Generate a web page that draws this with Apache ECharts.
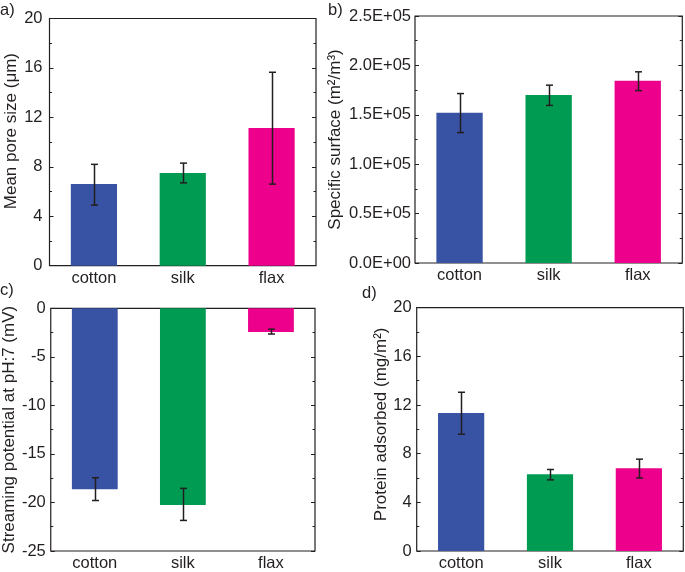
<!DOCTYPE html>
<html>
<head>
<meta charset="utf-8">
<script src="https://cdn.jsdelivr.net/npm/echarts@6/dist/echarts.min.js"></script>
<style>
html,body{margin:0;padding:0;background:#fff;}
#chart{width:685px;height:572px;}
</style>
</head>
<body>
<div id="chart"></div>
<script>
// ---- data ----
const categories = ['cotton', 'silk', 'flax'];
const barColors = ['#3953A4', '#009B53', '#EC008C'];

const poreSize = [6.6, 7.5, 11.15];
const poreSizeLow = [4.9, 6.7, 6.6];
const poreSizeHigh = [8.2, 8.3, 15.65];

const surface = [152000, 170000, 184500];
const surfaceLow = [132000, 159500, 174500];
const surfaceHigh = [171500, 180000, 193500];

const potential = [-18.65, -20.25, -2.45];
const potentialLow = [-19.8, -21.85, -2.65];
const potentialHigh = [-17.45, -18.55, -2.15];

const protein = [11.35, 6.3, 6.8];
const proteinLow = [9.6, 5.85, 6.0];
const proteinHigh = [13.05, 6.7, 7.55];

const yTicksA = [0, 4, 8, 12, 16, 20];
const yTicksB = [0, 50000, 100000, 150000, 200000, 250000];
const yTicksC = [-25, -20, -15, -10, -5, 0];
const yTicksD = [0, 4, 8, 12, 16, 20];

// ---- chart ----
const FONT = "'Liberation Sans', Arial, Helvetica, sans-serif";
const INK = '#231F20';
const chart = echarts.init(document.getElementById('chart'), null, {renderer: 'canvas'});

const grids = [
  {left: 49.5, top: 18.5, width: 266.5, height: 247.2},
  {left: 415, top: 16, width: 267.3, height: 247},
  {left: 49.3, top: 308.3, width: 265.7, height: 244.4},
  {left: 416.7, top: 307.7, width: 266.6, height: 247.3}
];

const panels = [
  {vals: poreSize, low: poreSizeLow, high: poreSizeHigh, ticks: yTicksA,
   name: 'Mean pore size (μm)', gap: 27, pad: [0, 0, 0, 22], margin: 7,
   fmt: v => String(v)},
  {vals: surface, low: surfaceLow, high: surfaceHigh, ticks: yTicksB,
   name: 'Specific surface (m²/m³)', gap: 71, pad: [0, 0, 0, 0], margin: 4,
   fmt: v => v === 0 ? '0.0E+00' : (v / 1e5).toFixed(1) + 'E+05'},
  {vals: potential, low: potentialLow, high: potentialHigh, ticks: yTicksC,
   name: 'Streaming potential at pH:7 (mV)', gap: 31, pad: [0, 0, 0, 0], margin: 5,
   fmt: v => String(v)},
  {vals: protein, low: proteinLow, high: proteinHigh, ticks: yTicksD,
   name: 'Protein adsorbed (mg/m²)', gap: 27, pad: [0, 0, 0, 10], margin: 5,
   fmt: v => String(v)}
];

const option = {
  backgroundColor: '#fff',
  animation: false,
  textStyle: {fontFamily: FONT},
  grid: grids.map(g => Object.assign({show: true, borderColor: INK, borderWidth: 1.2, backgroundColor: 'transparent', containLabel: false}, g)),
  xAxis: [],
  yAxis: [],
  series: [],
  graphic: [
    {type: 'text', left: 0, top: 2, style: {text: 'a)', font: '16.5px ' + FONT, fill: INK}},
    {type: 'text', left: 328, top: 2, style: {text: 'b)', font: '16.5px ' + FONT, fill: INK}},
    {type: 'text', left: 0, top: 282, style: {text: 'c)', font: '16.5px ' + FONT, fill: INK}},
    {type: 'text', left: 362, top: 285, style: {text: 'd)', font: '16.5px ' + FONT, fill: INK}}
  ]
};

panels.forEach((p, i) => {
  const tmin = p.ticks[0], tmax = p.ticks[p.ticks.length - 1];
  const step = p.ticks[1] - p.ticks[0];
  option.xAxis.push({
    type: 'category', gridIndex: i, data: categories, position: 'bottom',
    axisLine: {show: false, onZero: false},
    axisTick: {show: false},
    axisLabel: {color: INK, fontSize: 16.5, fontFamily: FONT, margin: 4},
    splitLine: {show: false}
  });
  const yCommon = {
    type: 'value', gridIndex: i, min: tmin, max: tmax, interval: step,
    axisLine: {show: false},
    splitLine: {show: false},
    axisTick: {show: true, inside: true, length: 4, lineStyle: {color: INK, width: 1}},
    minorTick: {show: true, splitNumber: 2, length: 2.5, lineStyle: {color: INK, width: 1}}
  };
  option.yAxis.push(Object.assign({}, yCommon, {
    position: 'left',
    name: p.name, nameLocation: 'middle', nameGap: p.gap,
    nameTextStyle: {color: INK, fontSize: 17, fontFamily: FONT, padding: p.pad},
    axisLabel: {color: INK, fontSize: 16.5, fontFamily: FONT, margin: p.margin, formatter: p.fmt}
  }));
  option.yAxis.push(Object.assign({}, yCommon, {
    position: 'right',
    axisLabel: {show: false}
  }));
  option.series.push({
    type: 'bar', xAxisIndex: i, yAxisIndex: 2 * i,
    barWidth: '52%',
    data: p.vals.map((v, k) => ({value: v, itemStyle: {color: barColors[k]}}))
  });
  option.series.push({
    type: 'custom', xAxisIndex: i, yAxisIndex: 2 * i, z: 10,
    data: p.vals.map((v, k) => [k, p.low[k], p.high[k]]),
    renderItem: function (params, api) {
      const lo = api.coord([api.value(0), api.value(1)]);
      const hi = api.coord([api.value(0), api.value(2)]);
      const x = Math.round(lo[0]) + 0.5;
      const w = 3.5;
      const st = {stroke: INK, lineWidth: 1.5};
      return {
        type: 'group',
        children: [
          {type: 'line', shape: {x1: x, y1: lo[1], x2: x, y2: hi[1]}, style: st},
          {type: 'line', shape: {x1: x - w, y1: lo[1], x2: x + w, y2: lo[1]}, style: st},
          {type: 'line', shape: {x1: x - w, y1: hi[1], x2: x + w, y2: hi[1]}, style: st}
        ]
      };
    }
  });
});

chart.setOption(option);
</script>
</body>
</html>
